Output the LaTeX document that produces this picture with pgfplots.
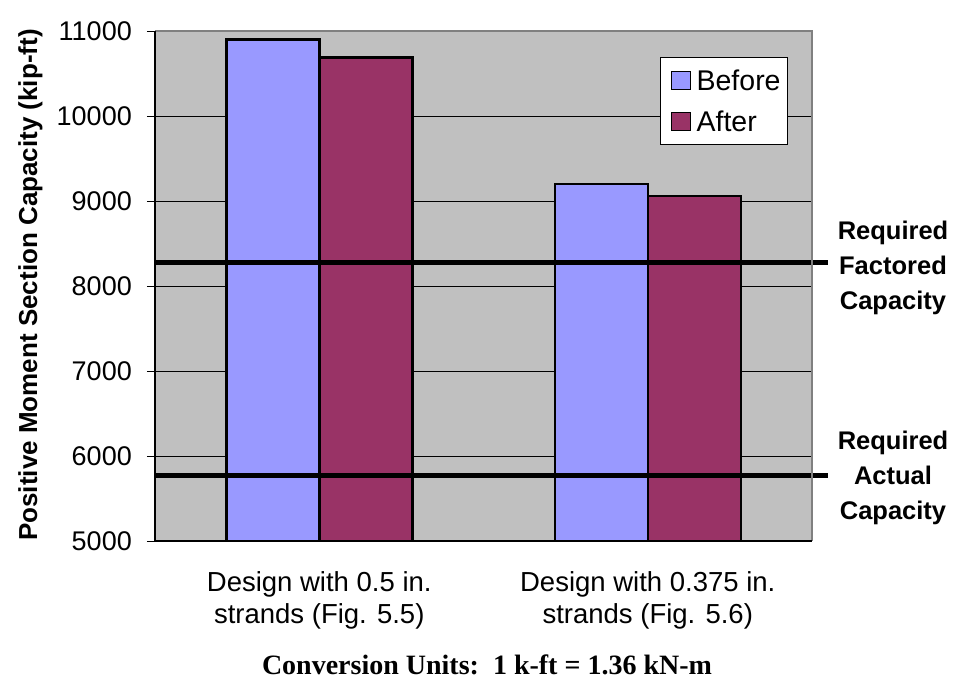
\documentclass[border=0pt]{standalone}
\usepackage{pgfplots}
\pgfplotsset{compat=1.18}
\usepackage{fontspec}
\setmainfont{Liberation Sans}
\newfontfamily\timesf{Liberation Serif}
\definecolor{bgray}{HTML}{C0C0C0}
\definecolor{before}{HTML}{9999FF}
\definecolor{after}{HTML}{993366}
\begin{document}
\begin{tikzpicture}[x=1pt,y=1pt]
\path[use as bounding box] (0,0) rectangle (959,688);
\begin{axis}[
  at={(155pt,147pt)}, anchor=south west,
  scale only axis, width=657pt, height=510pt,
  xmin=-0.5, xmax=1.5, ymin=5000, ymax=11000,
  clip=false,
  axis background/.style={fill=bgray},
  axis line style={draw=none},
  ytick={5000,6000,7000,8000,9000,10000,11000},
  scaled y ticks=false,
  ytick pos=left, xtick pos=bottom,
  ymajorgrids, grid style={black, line width=0.8pt},
  /pgf/number format/assume math mode=true,
  /pgf/number format/1000 sep={},
  yticklabel style={font=\fontsize{27}{32}\selectfont, anchor=east, inner sep=0pt, xshift=-15pt},
  ytick style={black, line width=0.8pt},
  tick align=outside, major tick length=8pt,
  xtick={0,1},
  xticklabels={{Design with 0.5 in.\\strands (Fig. 5.5)},{Design with 0.375 in.\\strands (Fig. 5.6)}},
  xticklabel style={font=\fontsize{27.5}{32}\selectfont, align=center, anchor=north, inner sep=0pt, yshift=-22pt},
  major x tick style={draw=none},
  extra x ticks={-0.5,0.5,1.5},
  extra x tick labels={},
  extra x tick style={major x tick style={black, line width=0.8pt}, xmajorgrids=false, major tick length=8pt},
  legend style={at={(0.769,0.949)}, anchor=north west, draw=black, line width=0.8pt, fill=white,
    font=\fontsize{28.5}{32}\selectfont, inner xsep=4pt, inner ysep=12pt, row sep=19pt,
    nodes={inner xsep=3pt, inner ysep=0pt}},
  legend cell align=left,
]
\addplot[ybar, bar width=93pt, bar shift=-46.5pt, fill=before, draw=black, line width=2.5pt,
  legend image code/.code={\path[draw=none, fill=none] (0pt,0pt) -- (29pt,0pt); \draw[fill=before, draw=black, line width=1.5pt] (7pt,-9pt) rectangle (26pt,9pt);}]
  coordinates {(0,10900) (1,9200)};
\addplot[ybar, bar width=93pt, bar shift=46.5pt, fill=after, draw=black, line width=2.5pt,
  legend image code/.code={\path[draw=none, fill=none] (0pt,0pt) -- (29pt,0pt); \draw[fill=after, draw=black, line width=1.5pt] (7pt,-9pt) rectangle (26pt,9pt);}]
  coordinates {(0,10690) (1,9060)};
\legend{Before,After}
\addplot[black, line width=5pt, forget plot] coordinates {(-0.5,8280) (1.549,8280)};
\addplot[black, line width=5pt, forget plot] coordinates {(-0.5,5765) (1.549,5765)};
\draw[gray, line width=1.8pt] (rel axis cs:0,1) -- (rel axis cs:1,1) -- (rel axis cs:1,0);
\draw[black, line width=1.5pt] (rel axis cs:0,1) -- (rel axis cs:0,0) -- (rel axis cs:1,0);
\end{axis}
\node[rotate=90, anchor=base, font=\bfseries\fontsize{26}{30}\selectfont] at (37,403) {Positive Moment Section Capacity (kip-ft)};
\node[align=center, font=\bfseries\fontsize{25.5}{35}\selectfont] at (893,420) {Required\\Factored\\Capacity};
\node[align=center, font=\bfseries\fontsize{25.5}{35}\selectfont] at (893,210) {Required\\Actual\\Capacity};
\node[anchor=base, font=\timesf\bfseries\fontsize{28}{32}\selectfont] at (487,13) {Conversion Units:\ \ 1 k-ft = 1.36 kN-m};
\end{tikzpicture}
\end{document}
